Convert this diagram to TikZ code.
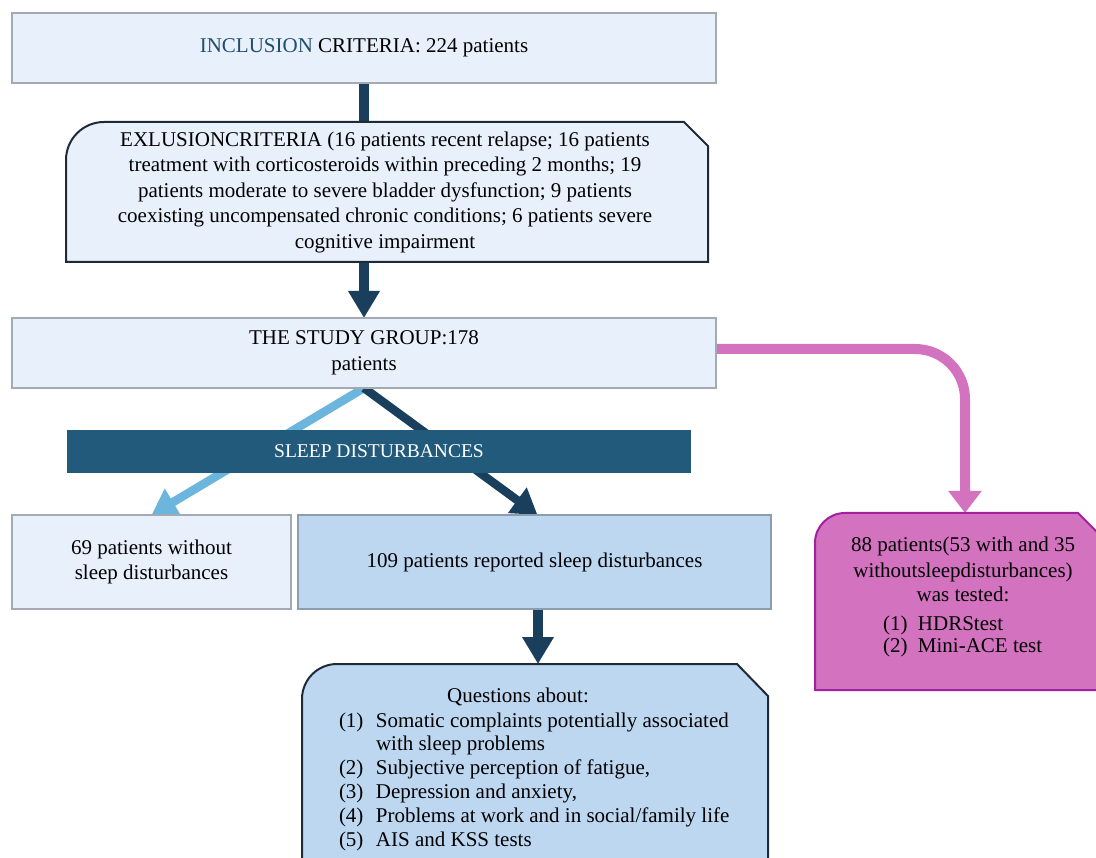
\documentclass[tikz,border=0pt]{standalone}
\usepackage{fontspec}
\setmainfont{Liberation Serif}
\usetikzlibrary{arrows.meta,backgrounds,calc}
\definecolor{boxfill}{HTML}{E8F0FB}
\definecolor{boxline}{HTML}{A3AAB2}
\definecolor{midfill}{HTML}{BDD7F1}
\definecolor{midline}{HTML}{8C9DB0}
\definecolor{darkarr}{HTML}{1A3F5C}
\definecolor{lightarr}{HTML}{6CB5DD}
\definecolor{barfill}{HTML}{215A7B}
\definecolor{pinkc}{HTML}{D372BF}
\definecolor{pinkline}{HTML}{A321A0}
\definecolor{darkedge}{HTML}{1E2A36}
\definecolor{incblue}{HTML}{1F4E6E}
\begin{document}
\begin{tikzpicture}[x=1pt,y=-1pt,
  every node/.style={inner sep=0pt, outer sep=0pt},
  f21/.style={font=\fontsize{21}{25.5}\selectfont},
  lightbox/.style={draw=boxline, line width=1.3pt, fill=boxfill, align=center, f21},
  midbox/.style={draw=midline, line width=1.3pt, fill=midfill, align=center, f21},
  area/.style={draw=none, fill=none},
  darkline/.style={draw=darkarr, line width=10pt},
  darkarrow/.style={draw=darkarr, line width=10pt, -{Triangle[width=30pt,length=27pt]}},
  diagdark/.style={draw=darkarr, line width=8.5pt, -{Triangle[width=30pt,length=25pt]}},
  diaglight/.style={draw=lightarr, line width=8.5pt, -{Triangle[width=30pt,length=25pt]}},
  pinkarrow/.style={draw=pinkc, line width=10pt, rounded corners=50pt, -{Triangle[width=32pt,length=22pt]}},
]
\useasboundingbox (0,0) rectangle (1096,858);

% boxes
\node[lightbox, minimum width=704, minimum height=70] (incl) at (364,48)
  {\textcolor{incblue}{INCLUSION} CRITERIA: 224 patients};

\node[area, minimum width=642, minimum height=140] (excl) at (387,192) {};
\fill[boxfill] (66,262) -- (66,160) arc[start angle=180, end angle=270, radius=38] -- (684,122) -- (708,146) -- (708,262) -- cycle;
\draw[draw=darkedge, line width=2pt] (66,262) -- (66,160) arc[start angle=180, end angle=270, radius=38] -- (684,122) -- (708,146) -- (708,262) -- cycle;
\node[f21, align=center] (excltxt) at (385,192)
  {EXLUSIONCRITERIA (16 patients recent relapse; 16 patients\\
   treatment with corticosteroids within preceding 2 months; 19\\
   patients moderate to severe bladder dysfunction; 9 patients\\
   coexisting uncompensated chronic conditions; 6 patients severe\\
   cognitive impairment};

\node[lightbox, minimum width=704, minimum height=70] (study) at (364,353)
  {THE STUDY GROUP:178\\patients};

\node[lightbox, minimum width=279, minimum height=94] (b69) at (151.5,562)
  {69 patients without\\sleep disturbances};
\node[midbox, minimum width=473, minimum height=94] (b109) at (534.5,562)
  {109 patients reported sleep disturbances};

% questions box
\node[area, minimum width=466, minimum height=206] (quest) at (535,767) {};
\fill[midfill] (302,875) -- (302,699) arc[start angle=180, end angle=270, radius=35] -- (737,664) -- (768,696) -- (768,875) -- cycle;
\draw[draw=darkedge, line width=2pt] (302,875) -- (302,699) arc[start angle=180, end angle=270, radius=35] -- (737,664) -- (768,696) -- (768,875) -- cycle;
\node[f21, anchor=base] (qhead) at (518,702) {Questions about:};
\node[font=\fontsize{21}{23.8}\selectfont, anchor=base west] (qlist) at (339,727)
  {\begin{tabular}[t]{@{}l@{}}
   \makebox[37pt][l]{(1)}Somatic complaints potentially associated\\
   \makebox[37pt][l]{}with sleep problems\\
   \makebox[37pt][l]{(2)}Subjective perception of fatigue,\\
   \makebox[37pt][l]{(3)}Depression and anxiety,\\
   \makebox[37pt][l]{(4)}Problems at work and in social/family life\\
   \makebox[37pt][l]{(5)}AIS and KSS tests
   \end{tabular}};

% pink box
\node[area, minimum width=285, minimum height=177] (pink) at (957.5,601.5) {};
\fill[pinkc] (815,690) -- (815,543) arc[start angle=180, end angle=270, radius=30] -- (1078,513) -- (1100,535) -- (1100,690) -- cycle;
\draw[draw=pinkline, line width=2pt] (815,690) -- (815,543) arc[start angle=180, end angle=270, radius=30] -- (1078,513) -- (1100,535) -- (1100,690) -- cycle;
\node[font=\fontsize{21}{25}\selectfont, anchor=base] (ptxt) at (963,552)
  {\begin{tabular}[t]{@{}c@{}}
   88 patients(53 with and 35\\
   withoutsleepdisturbances)\\
   was tested:
   \end{tabular}};
\node[font=\fontsize{21}{23}\selectfont, anchor=base west] (plist) at (883,630)
  {\begin{tabular}[t]{@{}l@{}}
   \makebox[35pt][l]{(1)}HDRStest\\
   \makebox[35pt][l]{(2)}Mini-ACE test
   \end{tabular}};

% connectors (behind the boxes)
\begin{scope}[on background layer]
\fill[white] (0,0) rectangle (1096,858);
\draw[darkline] (incl.south) -- (incl.south |- excl.north);
\draw[darkarrow] (excl.south -| incl.south) -- (study.north);
\draw[diaglight] (study.south) -- (b69.north);
\draw[diagdark] (study.south) -- ([xshift=3]b109.north);
\draw[darkarrow] ([xshift=3.5]b109.south) -- ([xshift=3.5]b109.south |- quest.north);
\draw[pinkarrow] ([yshift=4]study.east) -| ([xshift=7.5]pink.north);
\end{scope}

% sleep bar on top of the diagonal connectors
\node[fill=barfill, text=white, minimum width=624, minimum height=43,
      font=\fontsize{19.5}{23}\selectfont] (sleep) at (379,451.5) {SLEEP DISTURBANCES};
\end{tikzpicture}
\end{document}
